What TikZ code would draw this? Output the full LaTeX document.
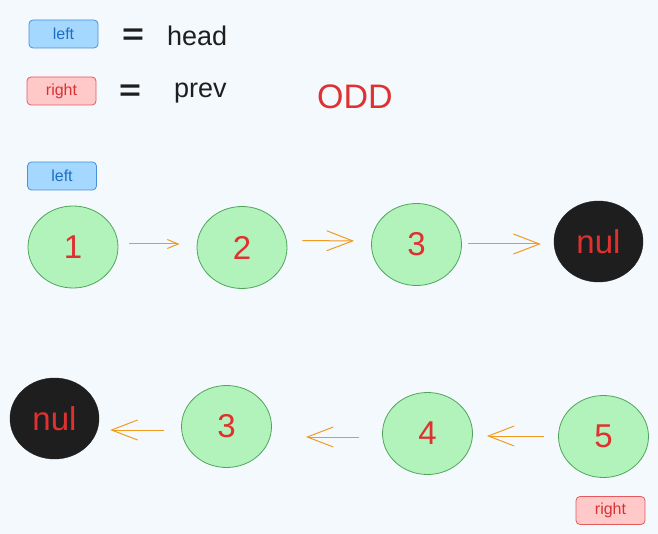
\documentclass[tikz,border=0pt]{standalone}
\usepackage{fontspec}
\setmainfont{Liberation Sans}
\usetikzlibrary{shapes.geometric,arrows.meta}
\definecolor{bgc}{HTML}{F4F9FE}
\definecolor{gfill}{HTML}{B2F2BB}
\definecolor{gline}{HTML}{4FA659}
\definecolor{numred}{HTML}{E03131}
\definecolor{bfill}{HTML}{A5D8FF}
\definecolor{bline}{HTML}{4A90D9}
\definecolor{btext}{HTML}{1C6FC4}
\definecolor{rfill}{HTML}{FFC9C9}
\definecolor{rline}{HTML}{E55A5A}
\definecolor{rtext}{HTML}{D93030}
\definecolor{darkn}{HTML}{1E1E1E}
\definecolor{arr}{HTML}{F29A1E}
\definecolor{txt}{HTML}{1E1E1E}
\tikzset{
  listnode/.style={ellipse, draw=gline, fill=gfill, line width=0.8pt, minimum width=90pt, minimum height=82pt, inner sep=0pt, text=numred, font=\fontsize{33}{33}\selectfont},
  nullnode/.style={ellipse, draw=darkn, fill=darkn, minimum width=89pt, minimum height=81pt, inner sep=0pt, text=numred, font=\fontsize{33}{33}\selectfont},
  bluetag/.style={draw=bline, fill=bfill, rounded corners=4pt, line width=0.8pt, minimum width=69pt, minimum height=28pt, inner sep=0pt, text=btext, font=\fontsize{16}{16}\selectfont},
  redtag/.style={draw=rline, fill=rfill, rounded corners=4pt, line width=0.8pt, minimum width=69pt, minimum height=28pt, inner sep=0pt, text=rtext, font=\fontsize{16}{16}\selectfont},
  plaintext/.style={text=txt, font=\fontsize{27}{27}\selectfont, inner sep=0pt, anchor=base west},
  eqsign/.style={text=txt, font=\fontsize{30}{30}\selectfont\bfseries, inner sep=0pt, xscale=1.25},
  link/.style={draw=arr, line width=1pt, -{Straight Barb[length=26pt, width=20pt, line width=1pt]}},
  smalllink/.style={draw=arr, line width=1pt, -{Straight Barb[length=11pt, width=9pt, line width=1pt]}}
}
\begin{document}
\begin{tikzpicture}[x=1pt,y=-1pt]
\fill[bgc] (0,0) rectangle (658,534);
\useasboundingbox (0,0) rectangle (658,534);

% legend
\node[bluetag] (tagL1) at (63.5,34) {left};
\node[eqsign] (eq1) at (133,37) {=};
\node[plaintext] (head) at (167,46) {head};
\node[redtag] (tagR1) at (61.5,91) {right};
\node[eqsign] (eq2) at (130,93) {=};
\node[plaintext] (prev) at (174,97.5) {prev};
\node[text=numred, font=\fontsize{34}{34}\selectfont, inner sep=0pt] (odd) at (355,97) {ODD};

% top row
\node[bluetag] (tagL2) at (62,176) {left};
\node[listnode] (n1) at (73,247) {1};
\node[listnode] (n2) at (242,247.5) {2};
\node[listnode] (n3) at (416.5,244.5) {3};
\node[nullnode] (nulA) at (598.5,241.5) {nul};

\draw[smalllink, shorten <=11pt, shorten >=17pt] ([yshift=3pt]n1.east) -- ([yshift=3.5pt]n2.west);
\draw[link, shorten <=15pt, shorten >=17pt] ([yshift=7pt]n2.east) -- ([yshift=3.5pt]n3.west);
\draw[link, shorten <=6pt, shorten >=13pt] ([yshift=0.5pt]n3.east) -- ([yshift=-2.5pt]nulA.west);

% bottom row
\node[nullnode] (nulB) at (54.5,418.5) {nul};
\node[listnode] (m3) at (226.5,426.5) {3};
\node[listnode] (m4) at (427.5,433.5) {4};
\node[listnode] (m5) at (603.5,436.5) {5};
\node[redtag] (tagR2) at (610.5,510.5) {right};

\draw[link, shorten <=14pt, shorten >=14pt] ([yshift=0.5pt]m5.west) -- ([yshift=-2.5pt]m4.east);
\draw[link, shorten <=23pt, shorten >=34pt] ([yshift=-3.5pt]m4.west) -- ([yshift=-10.5pt]m3.east);
\draw[link, shorten <=17pt, shorten >=11pt] ([yshift=-3.5pt]m3.west) -- ([yshift=-11.5pt]nulB.east);
\end{tikzpicture}
\end{document}
